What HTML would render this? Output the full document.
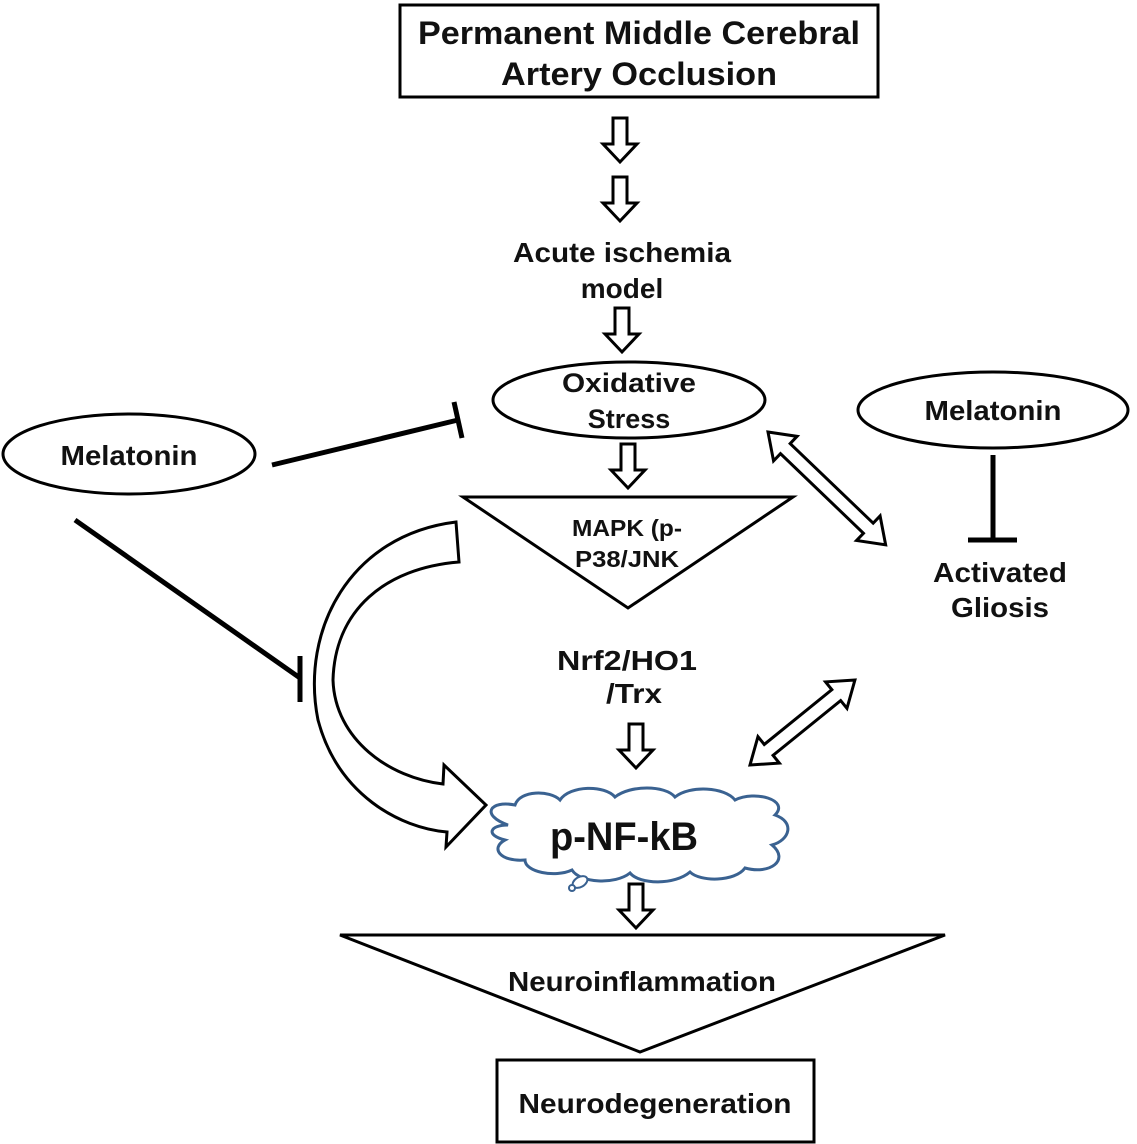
<!DOCTYPE html>
<html><head><meta charset="utf-8"><style>
html,body{margin:0;padding:0;background:#fff}
svg{display:block}
text{font-family:"Liberation Sans",Arial,sans-serif;font-weight:bold;fill:#111;text-anchor:middle}
</style></head><body>
<svg width="1137" height="1144" viewBox="0 0 1137 1144" xmlns="http://www.w3.org/2000/svg">
<defs>
<path id="da" d="M-7,0 L7,0 L7,26 L17,26 L0,44 L-17,26 L-7,26 Z" fill="#fff" stroke="#000" stroke-width="3" stroke-linejoin="miter"/>
</defs>
<rect x="400" y="5" width="478" height="92" fill="#fff" stroke="#000" stroke-width="3"/>
<text x="639" y="44" font-size="32" textLength="442" lengthAdjust="spacingAndGlyphs">Permanent Middle Cerebral</text>
<text x="639" y="85" font-size="32" textLength="276" lengthAdjust="spacingAndGlyphs">Artery Occlusion</text>
<use href="#da" x="620" y="118"/>
<use href="#da" x="620" y="177"/>
<text x="622" y="262" font-size="28" textLength="218" lengthAdjust="spacingAndGlyphs">Acute ischemia</text>
<text x="622" y="298" font-size="28">model</text>
<use href="#da" x="622" y="308"/>
<ellipse cx="629" cy="400" rx="136" ry="38" fill="#fff" stroke="#000" stroke-width="3"/>
<text x="629" y="392" font-size="27" textLength="134" lengthAdjust="spacingAndGlyphs">Oxidative</text>
<text x="629" y="428" font-size="27">Stress</text>
<use href="#da" x="628" y="444"/>
<polygon points="463,497 793,497 628,608" fill="#fff" stroke="#000" stroke-width="3"/>
<text x="627" y="536" font-size="23" textLength="110" lengthAdjust="spacingAndGlyphs">MAPK (p-</text>
<text x="627" y="567" font-size="23" textLength="104" lengthAdjust="spacingAndGlyphs">P38/JNK</text>
<ellipse cx="129" cy="454" rx="126" ry="40" fill="#fff" stroke="#000" stroke-width="3"/>
<text x="129" y="465" font-size="28" textLength="137" lengthAdjust="spacingAndGlyphs">Melatonin</text>
<line x1="272" y1="465" x2="458" y2="420" stroke="#000" stroke-width="5"/>
<line x1="454" y1="402" x2="462" y2="438" stroke="#000" stroke-width="5"/>
<line x1="75" y1="520" x2="300" y2="678" stroke="#000" stroke-width="5"/>
<line x1="300" y1="656" x2="300" y2="702" stroke="#000" stroke-width="5"/>
<ellipse cx="993" cy="410" rx="135" ry="38" fill="#fff" stroke="#000" stroke-width="3"/>
<text x="993" y="420" font-size="28" textLength="137" lengthAdjust="spacingAndGlyphs">Melatonin</text>
<line x1="993" y1="455" x2="993" y2="540" stroke="#000" stroke-width="5"/>
<line x1="968" y1="540" x2="1017" y2="540" stroke="#000" stroke-width="5"/>
<text x="1000" y="582" font-size="28" textLength="134" lengthAdjust="spacingAndGlyphs">Activated</text>
<text x="1000" y="617" font-size="28" textLength="98" lengthAdjust="spacingAndGlyphs">Gliosis</text>
<g transform="translate(768,432) rotate(43.8)">
<path d="M0,0 L24,-17 L24,-7 L139,-7 L139,-17 L163,0 L139,17 L139,7 L24,7 L24,17 Z" fill="#fff" stroke="#000" stroke-width="3"/>
</g>
<g transform="translate(750,765) rotate(-39)">
<path d="M0,0 L24,-17 L24,-7 L111,-7 L111,-17 L135,0 L111,17 L111,7 L24,7 L24,17 Z" fill="#fff" stroke="#000" stroke-width="3"/>
</g>
<text x="627" y="670" font-size="28" textLength="140" lengthAdjust="spacingAndGlyphs">Nrf2/HO1</text>
<text x="634" y="703" font-size="28" textLength="56" lengthAdjust="spacingAndGlyphs">/Trx</text>
<use href="#da" x="636" y="724"/>
<path d="M456,522 C 350,535 300,630 318,720 C 338,795 400,828 447,832 L446,847 L486,805 L444,765 L443,784 C 390,778 335,740 333,680 C 335,610 385,568 459,562 Z" fill="#fff" stroke="#000" stroke-width="3" stroke-linejoin="miter"/>
<path d="M508,825 C 480,815 490,800 515,805 C 520,790 550,790 560,800 C 570,785 605,785 615,797 C 630,785 665,785 675,797 C 690,785 725,787 735,800 C 755,790 790,800 775,815 C 795,822 790,840 772,845 C 790,860 770,875 745,868 C 735,882 700,882 690,872 C 675,885 640,885 630,873 C 615,885 580,883 572,870 C 555,878 525,872 525,860 C 500,862 490,848 505,840 C 485,835 490,825 508,825 Z" fill="#fff" stroke="#3a6291" stroke-width="3"/>
<ellipse cx="580" cy="882" rx="8" ry="5" fill="#fff" stroke="#3a6291" stroke-width="2" transform="rotate(-30 580 882)"/>
<circle cx="572" cy="888" r="3" fill="#fff" stroke="#3a6291" stroke-width="2"/>
<text x="624" y="850" font-size="40" textLength="148" lengthAdjust="spacingAndGlyphs">p-NF-kB</text>
<use href="#da" x="636" y="884"/>
<polygon points="340,935 945,935 640,1052" fill="#fff" stroke="#000" stroke-width="3"/>
<text x="642" y="991" font-size="28" textLength="268" lengthAdjust="spacingAndGlyphs">Neuroinflammation</text>
<rect x="497" y="1060" width="317" height="82" fill="#fff" stroke="#000" stroke-width="3"/>
<text x="655" y="1113" font-size="28" textLength="273" lengthAdjust="spacingAndGlyphs">Neurodegeneration</text>
</svg>
</body></html>
